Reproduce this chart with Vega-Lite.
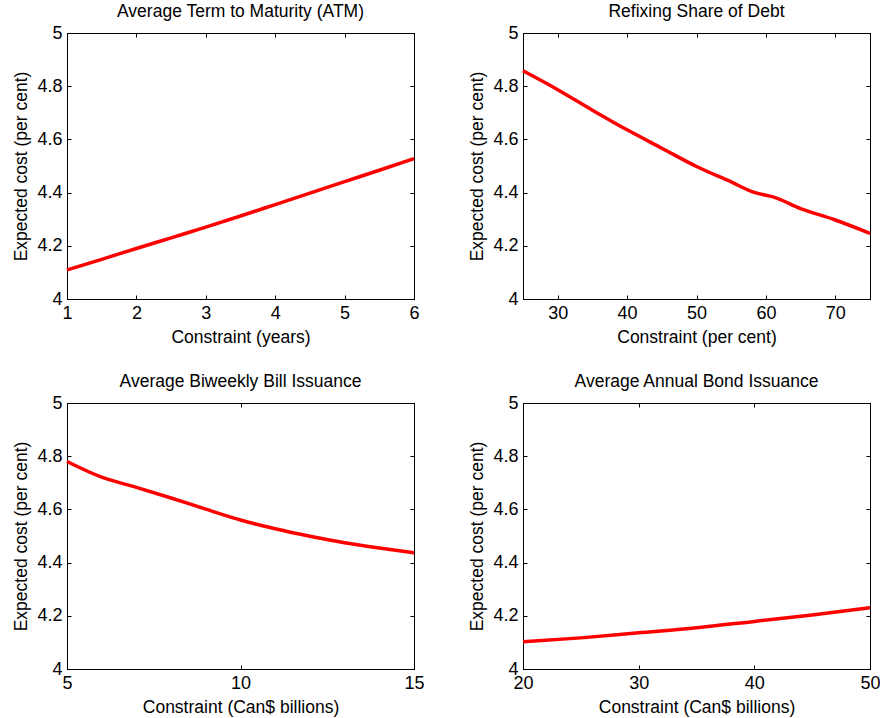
{
  "$schema": "https://vega.github.io/schema/vega-lite/v6.json",
  "background": "white",
  "padding": {"left": 12, "top": 2, "right": 5, "bottom": 5},
  "columns": 2,
  "spacing": {"row": 104, "column": 109},
  "bounds": "flush",
  "concat": [
    {
      "title": "Average Term to Maturity (ATM)",
      "width": 347, "height": 266,
      "data": {"values": [
        {"x": 1, "y": 4.109}, {"x": 1.5, "y": 4.149}, {"x": 2, "y": 4.19}, {"x": 2.5, "y": 4.23},
        {"x": 3, "y": 4.27}, {"x": 3.5, "y": 4.312}, {"x": 4, "y": 4.355}, {"x": 4.5, "y": 4.398},
        {"x": 5, "y": 4.441}, {"x": 5.5, "y": 4.484}, {"x": 6, "y": 4.528}
      ]},
      "layer": [
        {"mark": {"type": "line", "interpolate": "monotone"},
         "encoding": {
           "x": {"field": "x", "type": "quantitative", "scale": {"domain": [1, 6], "nice": false, "zero": false},
                 "axis": {"values": [1, 2, 3, 4, 5, 6], "title": "Constraint (years)"}},
           "y": {"field": "y", "type": "quantitative", "scale": {"domain": [4, 5], "nice": false, "zero": false},
                 "axis": {"values": [4, 4.2, 4.4, 4.6, 4.8, 5], "format": "~g", "title": "Expected cost (per cent)"}}
         }},
        {"mark": {"type": "line", "opacity": 0},
         "encoding": {
           "x": {"field": "x", "type": "quantitative", "axis": {"orient": "top", "values": [1, 2, 3, 4, 5, 6], "labels": false, "title": null}},
           "y": {"field": "y", "type": "quantitative", "axis": {"orient": "right", "values": [4, 4.2, 4.4, 4.6, 4.8, 5], "labels": false, "title": null}}
         }}
      ],
      "resolve": {"axis": {"x": "independent", "y": "independent"}}
    },
    {
      "title": "Refixing Share of Debt",
      "width": 347, "height": 266,
      "data": {"values": [
        {"x": 25, "y": 4.858}, {"x": 30, "y": 4.787}, {"x": 35, "y": 4.71}, {"x": 40, "y": 4.636},
        {"x": 45, "y": 4.567}, {"x": 50, "y": 4.498}, {"x": 55, "y": 4.44}, {"x": 58, "y": 4.404},
        {"x": 60, "y": 4.39}, {"x": 61, "y": 4.384}, {"x": 65, "y": 4.34}, {"x": 70, "y": 4.297}, {"x": 75, "y": 4.247}
      ]},
      "layer": [
        {"mark": {"type": "line", "interpolate": "monotone"},
         "encoding": {
           "x": {"field": "x", "type": "quantitative", "scale": {"domain": [25, 75], "nice": false, "zero": false},
                 "axis": {"values": [30, 40, 50, 60, 70], "title": "Constraint (per cent)"}},
           "y": {"field": "y", "type": "quantitative", "scale": {"domain": [4, 5], "nice": false, "zero": false},
                 "axis": {"values": [4, 4.2, 4.4, 4.6, 4.8, 5], "format": "~g", "title": "Expected cost (per cent)"}}
         }},
        {"mark": {"type": "line", "opacity": 0},
         "encoding": {
           "x": {"field": "x", "type": "quantitative", "axis": {"orient": "top", "values": [30, 40, 50, 60, 70], "labels": false, "title": null}},
           "y": {"field": "y", "type": "quantitative", "axis": {"orient": "right", "values": [4, 4.2, 4.4, 4.6, 4.8, 5], "labels": false, "title": null}}
         }}
      ],
      "resolve": {"axis": {"x": "independent", "y": "independent"}}
    },
    {
      "title": "Average Biweekly Bill Issuance",
      "width": 347, "height": 266,
      "data": {"values": [
        {"x": 5, "y": 4.78}, {"x": 6, "y": 4.721}, {"x": 7, "y": 4.683}, {"x": 8, "y": 4.643},
        {"x": 9, "y": 4.601}, {"x": 10, "y": 4.56}, {"x": 11, "y": 4.527}, {"x": 12, "y": 4.499},
        {"x": 13, "y": 4.475}, {"x": 14, "y": 4.455}, {"x": 15, "y": 4.437}
      ]},
      "layer": [
        {"mark": {"type": "line", "interpolate": "monotone"},
         "encoding": {
           "x": {"field": "x", "type": "quantitative", "scale": {"domain": [5, 15], "nice": false, "zero": false},
                 "axis": {"values": [5, 10, 15], "title": "Constraint (Can$ billions)"}},
           "y": {"field": "y", "type": "quantitative", "scale": {"domain": [4, 5], "nice": false, "zero": false},
                 "axis": {"values": [4, 4.2, 4.4, 4.6, 4.8, 5], "format": "~g", "title": "Expected cost (per cent)"}}
         }},
        {"mark": {"type": "line", "opacity": 0},
         "encoding": {
           "x": {"field": "x", "type": "quantitative", "axis": {"orient": "top", "values": [5, 10, 15], "labels": false, "title": null}},
           "y": {"field": "y", "type": "quantitative", "axis": {"orient": "right", "values": [4, 4.2, 4.4, 4.6, 4.8, 5], "labels": false, "title": null}}
         }}
      ],
      "resolve": {"axis": {"x": "independent", "y": "independent"}}
    },
    {
      "title": "Average Annual Bond Issuance",
      "width": 347, "height": 266,
      "data": {"values": [
        {"x": 20, "y": 4.102}, {"x": 25, "y": 4.117}, {"x": 30, "y": 4.136}, {"x": 35, "y": 4.155},
        {"x": 40, "y": 4.179}, {"x": 45, "y": 4.203}, {"x": 50, "y": 4.23}
      ]},
      "layer": [
        {"mark": {"type": "line", "interpolate": "monotone"},
         "encoding": {
           "x": {"field": "x", "type": "quantitative", "scale": {"domain": [20, 50], "nice": false, "zero": false},
                 "axis": {"values": [20, 30, 40, 50], "title": "Constraint (Can$ billions)"}},
           "y": {"field": "y", "type": "quantitative", "scale": {"domain": [4, 5], "nice": false, "zero": false},
                 "axis": {"values": [4, 4.2, 4.4, 4.6, 4.8, 5], "format": "~g", "title": "Expected cost (per cent)"}}
         }},
        {"mark": {"type": "line", "opacity": 0},
         "encoding": {
           "x": {"field": "x", "type": "quantitative", "axis": {"orient": "top", "values": [20, 30, 40, 50], "labels": false, "title": null}},
           "y": {"field": "y", "type": "quantitative", "axis": {"orient": "right", "values": [4, 4.2, 4.4, 4.6, 4.8, 5], "labels": false, "title": null}}
         }}
      ],
      "resolve": {"axis": {"x": "independent", "y": "independent"}}
    }
  ],
  "config": {
    "font": "Liberation Sans",
    "view": {"stroke": "black", "strokeWidth": 1},
    "axis": {
      "grid": false,
      "domainColor": "black",
      "tickColor": "black",
      "labelColor": "black",
      "titleColor": "black",
      "labelFontSize": 18,
      "titleFontSize": 17.5,
      "titleFontWeight": "normal",
      "tickSize": -4,
      "labelPadding": 9,
      "labelFlush": false,
      "labelOverlap": false,
      "titlePadding": 6
    },
    "title": {"fontSize": 17.5, "fontWeight": "normal", "color": "black", "offset": 4},
    "line": {"color": "#ff0000", "strokeWidth": 3.5}
  }
}
